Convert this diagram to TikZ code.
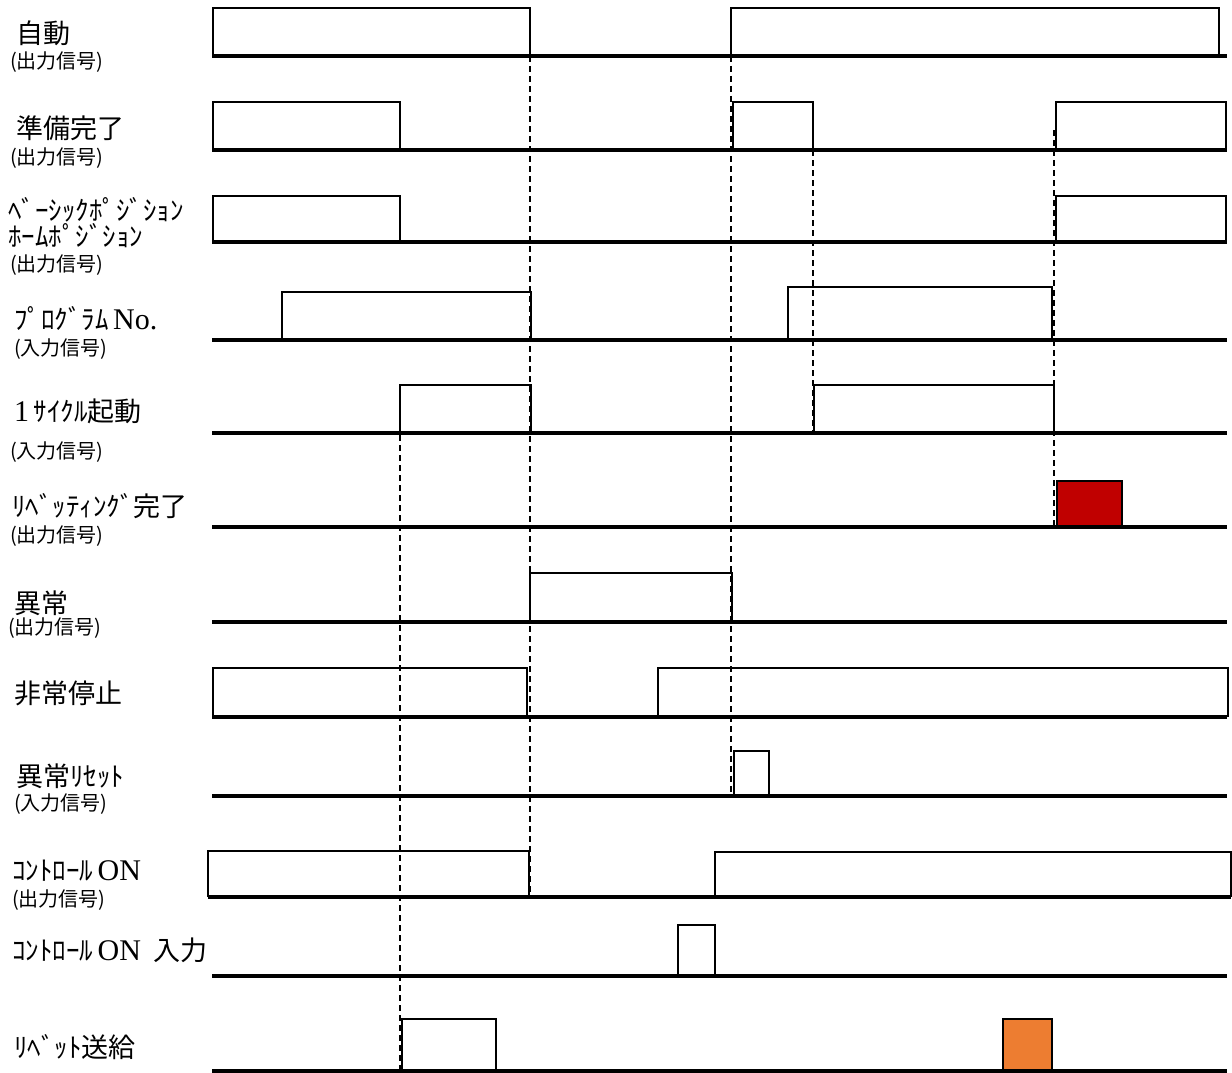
\documentclass[tikz,border=0pt]{standalone}
\usepackage{fontspec}
\setmainfont{Liberation Serif}
\newfontfamily\jp{Noto Sans CJK JP}
\definecolor{rvred}{HTML}{C00000}
\definecolor{rvorange}{HTML}{ED7D31}
\newcommand{\sr}[1]{{\rmfamily\fontsize{30}{30}\selectfont #1}}
\newcommand{\hwk}[1]{{\fontsize{27}{27}\selectfont #1}}
\begin{document}
\begin{tikzpicture}[x=1pt,y=-1pt,
  base/.style={line width=3.4pt},
  pulse/.style={draw=black,line width=1.4pt},
  guide/.style={line width=1.5pt, dash pattern=on 6pt off 4pt},
  lab/.style={anchor=west, inner sep=0pt, font=\jp\fontsize{27}{27}\selectfont},
  hw/.style={anchor=west, inner sep=0pt, font=\jp\fontsize{27}{27}\selectfont},
  sub/.style={anchor=west, inner sep=0pt, font=\jp\fontsize{20}{20}\selectfont}]
\useasboundingbox (0,0) rectangle (1232,1073);

% ---- labels
\node[lab] (l1) at (16,33) {自動};
\node[sub] (s1) at (10,62) {(出力信号)};
\node[lab] (l2) at (16,128) {準備完了};
\node[sub] (s2) at (10,158) {(出力信号)};
\node[hw] (l3a) at (8,210) {ﾍﾞｰｼｯｸﾎﾟｼﾞｼｮﾝ};
\node[hw] (l3b) at (8,236) {ﾎｰﾑﾎﾟｼﾞｼｮﾝ};
\node[sub] (s3) at (10,265) {(出力信号)};
\node[hw] (l4) at (14,319) {ﾌﾟﾛｸﾞﾗﾑ\,\sr{No.}};
\node[sub] (s4) at (14,349) {(入力信号)};
\node[lab] (l5) at (14,411) {\sr{1}\,\hwk{ｻｲｸﾙ}起動};
\node[sub] (s5) at (10,452) {(入力信号)};
\node[lab] (l6) at (12,506) {\hwk{ﾘﾍﾞｯﾃｨﾝｸﾞ}完了};
\node[sub] (s6) at (10,536) {(出力信号)};
\node[lab] (l7) at (14,603) {異常};
\node[sub] (s7) at (8,628) {(出力信号)};
\node[lab] (l8) at (14,693) {非常停止};
\node[lab] (l9) at (16,776) {異常\hwk{ﾘｾｯﾄ}};
\node[sub] (s9) at (14,804) {(入力信号)};
\node[hw] (l10) at (12,871) {ｺﾝﾄﾛｰﾙ\,\sr{ON}};
\node[sub] (s10) at (12,900) {(出力信号)};
\node[hw] (l11) at (12,950) {ｺﾝﾄﾛｰﾙ\,\sr{ON}\ \ 入力};
\node[hw] (l12) at (14,1047) {ﾘﾍﾞｯﾄ送給};

% ---- pulses
% row 1
\draw[pulse] (213,56) |- (530,8) -- (530,56);
\draw[pulse] (731,56) |- (1219,8) -- (1219,56);
% row 2
\draw[pulse] (213,150) |- (400,102) -- (400,150);
\draw[pulse] (733,150) |- (813,102) -- (813,150);
\draw[pulse] (1056,150) |- (1226,102) -- (1226,150);
% row 3
\draw[pulse] (213,242) |- (400,196) -- (400,242);
\draw[pulse] (1056,242) |- (1226,196) -- (1226,242);
% row 4
\draw[pulse] (282,340) |- (531,292) -- (531,340);
\draw[pulse] (788,340) |- (1052,287) -- (1052,340);
% row 5
\draw[pulse] (400,433) |- (531,385) -- (531,433);
\draw[pulse] (814,433) |- (1054,385) -- (1054,433);
% row 6
\draw[pulse, fill=rvred] (1057,527) rectangle (1122,481);
% row 7
\draw[pulse] (530,622) |- (732,573) -- (732,622);
% row 8
\draw[pulse] (213,717) |- (527,668) -- (527,717);
\draw[pulse] (658,717) |- (1228,668) -- (1228,717);
% row 9
\draw[pulse] (734,796) |- (769,751) -- (769,796);
% row 10
\draw[pulse] (208,897) |- (529,851) -- (529,897);
\draw[pulse] (715,897) |- (1231,852) -- (1231,897);
% row 11
\draw[pulse] (678,976) |- (715,925) -- (715,976);
% row 12
\draw[pulse] (402,1071) |- (496,1019) -- (496,1071);
\draw[pulse, fill=rvorange] (1003,1071) rectangle (1052,1019);

% ---- dashed guides
\draw[guide] (530,56) -- (530,897);
\draw[guide] (400,385) -- (400,1071);
\draw[guide] (731,56) -- (731,796);
\draw[guide] (813,150) -- (813,433);
\draw[guide] (1054,130) -- (1054,527);

% ---- baselines
\foreach \yy in {56,150,242,340,433,527,622,717,796,976,1071}
  \draw[base] (212,\yy) -- (1227,\yy);
\draw[base] (208,897) -- (1231,897);
\end{tikzpicture}
\end{document}
